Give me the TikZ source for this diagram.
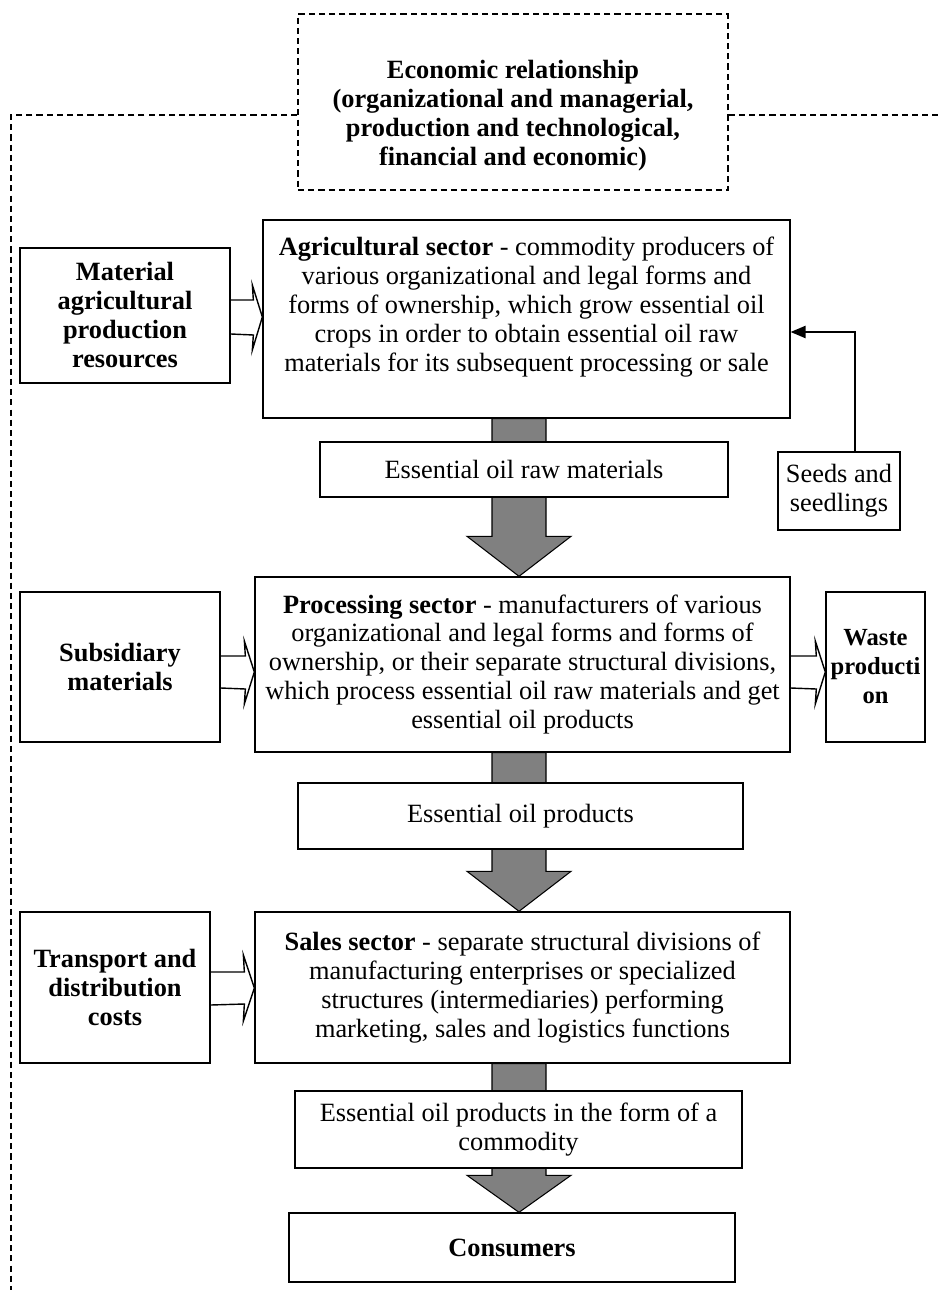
\documentclass[tikz,border=0pt]{standalone}
\usepackage{fontspec}
\setmainfont{Liberation Serif}
\usepackage{pgf, tikz}
\usetikzlibrary{calc,arrows.meta}

\begin{document}
\begin{tikzpicture}[
            x = 0.02cm, y = -0.02cm, % one unit is one pixel of the scheme
            > = {Triangle[length=8.5pt,width=7pt]}, % arrow head style
            font = \fontsize{15}{16.5}\selectfont,
            box/.style = {draw, line width=0.8pt, fill=white, align=center, inner sep=0pt},
            head/.style = {box, font=\fontsize{15}{16.5}\selectfont\bfseries},
            frame/.style = {line width=0.8pt, dash pattern=on 3.5pt off 2.3pt},
            flow/.style = {draw=black, fill=gray, line width=0.6pt},
            hollow/.style = {draw=black, line width=0.8pt},
            semithick % line style
        ]
\useasboundingbox (0,0) rectangle (938,1290);

% economic relationship and its frame
\node[head, frame, fill=none, minimum width=8.6cm, minimum height=3.52cm] (eco) at (513,102)
  {\mbox{}\\[9pt]Economic relationship\\(organizational and managerial,\\production and technological,\\financial and economic)};
\coordinate (fbot) at (11,1290);
\coordinate (fright) at (938,115);
\draw[frame] (eco.west |- 0,115) -| (fbot);
\draw[frame] (eco.east |- 0,115) -- (fright);

% sectors
\node[box, minimum width=10.54cm, minimum height=3.96cm] (agri) at (526.5,319)
  {\textbf{Agricultural sector} - commodity producers of\\various organizational and legal forms and\\forms of ownership, which grow essential oil\\crops in order to obtain essential oil raw\\materials for its subsequent processing or sale\\\mbox{}};
\node[box, minimum width=10.7cm, minimum height=3.5cm] (proc) at (522.5,664.5)
  {\textbf{Processing sector} - manufacturers of various\\organizational and legal forms and forms of\\ownership, or their separate structural divisions,\\which process essential oil raw materials and get\\essential oil products};
\node[box, minimum width=10.7cm, minimum height=3.02cm] (sales) at (522.5,987.5)
  {\textbf{Sales sector} - separate structural divisions of\\manufacturing enterprises or specialized\\structures (intermediaries) performing\\marketing, sales and logistics functions};
\node[head, minimum width=8.92cm, minimum height=1.38cm] (cons) at (512,1247.5) {Consumers};

% inputs and outputs
\node[head, minimum width=4.2cm, minimum height=2.7cm] (mat) at (125,315.5)
  {Material\\agricultural\\production\\resources};
\node[head, minimum width=4cm, minimum height=3cm] (subs) at (120,667) {Subsidiary\\materials};
\node[head, minimum width=3.8cm, minimum height=3.02cm] (trans) at (115,987.5)
  {Transport and\\distribution\\costs};
\node[head, font=\fontsize{14}{16.5}\selectfont\bfseries, minimum width=1.98cm, minimum height=3cm] (waste) at (875.5,667)
  {Waste\\producti\\on};
\node[box, minimum width=2.44cm, minimum height=1.56cm] (seeds) at (839,491) {Seeds and\\seedlings};

% big grey arrows
\coordinate (sL) at (492,0);
\coordinate (sR) at (546,0);
\coordinate (tip) at (519,0);
\draw[flow] (agri.south -| sL) -- ($(sL |- proc.north)+(0,-40)$) -- ++(-25,0) -- (proc.north -| tip)
  -- ++(52,-40) -- ++(-25,0) -- (agri.south -| sR) -- cycle;
\draw[flow] (proc.south -| sL) -- ($(sL |- sales.north)+(0,-40)$) -- ++(-25,0) -- (sales.north -| tip)
  -- ++(52,-40) -- ++(-25,0) -- (proc.south -| sR) -- cycle;
\draw[flow] (sales.south -| sL) -- ($(sL |- cons.north)+(0,-37)$) -- ++(-25,0) -- (cons.north -| tip)
  -- ++(52,-37) -- ++(-25,0) -- (sales.south -| sR) -- cycle;

% products on the arrows
\node[box, minimum width=8.16cm, minimum height=1.1cm] (raw) at (524,469.5) {Essential oil raw materials};
\node[box, minimum width=8.9cm, minimum height=1.32cm] (prod) at (520.5,816) {Essential oil products};
\node[box, minimum width=8.94cm, minimum height=1.54cm] (comm) at (518.5,1129.5)
  {Essential oil products in the form of a\\commodity};

% hollow arrows
\draw[hollow] (mat.east |- 0,300) -- ($(agri.west |- 0,300)+(-9,0)$) -- ++(-1,-15) -- (agri.west |- 0,317)
  -- ++(-10,33) -- ++(1,-15) -- (mat.east |- 0,334);
\draw[hollow] (subs.east |- 0,656) -- ($(proc.west |- 0,656)+(-9,0)$) -- ++(-1,-15) -- (proc.west |- 0,672)
  -- ++(-10,32) -- ++(1,-15) -- (subs.east |- 0,688);
\draw[hollow] (proc.east |- 0,656) -- ($(waste.west |- 0,656)+(-9,0)$) -- ++(-1,-15) -- (waste.west |- 0,672)
  -- ++(-10,32) -- ++(1,-15) -- (proc.east |- 0,688);
\draw[hollow] (trans.east |- 0,972) -- ($(sales.west |- 0,972)+(-10,0)$) -- ++(-1,-17) -- (sales.west |- 0,988)
  -- ++(-11,33) -- ++(1,-17) -- (trans.east |- 0,1005);

% seeds into agriculture
\draw[->, line width=0.8pt] (seeds.north -| 855,0) |- (agri.east |- 0,332);

\end{tikzpicture}
\end{document}
